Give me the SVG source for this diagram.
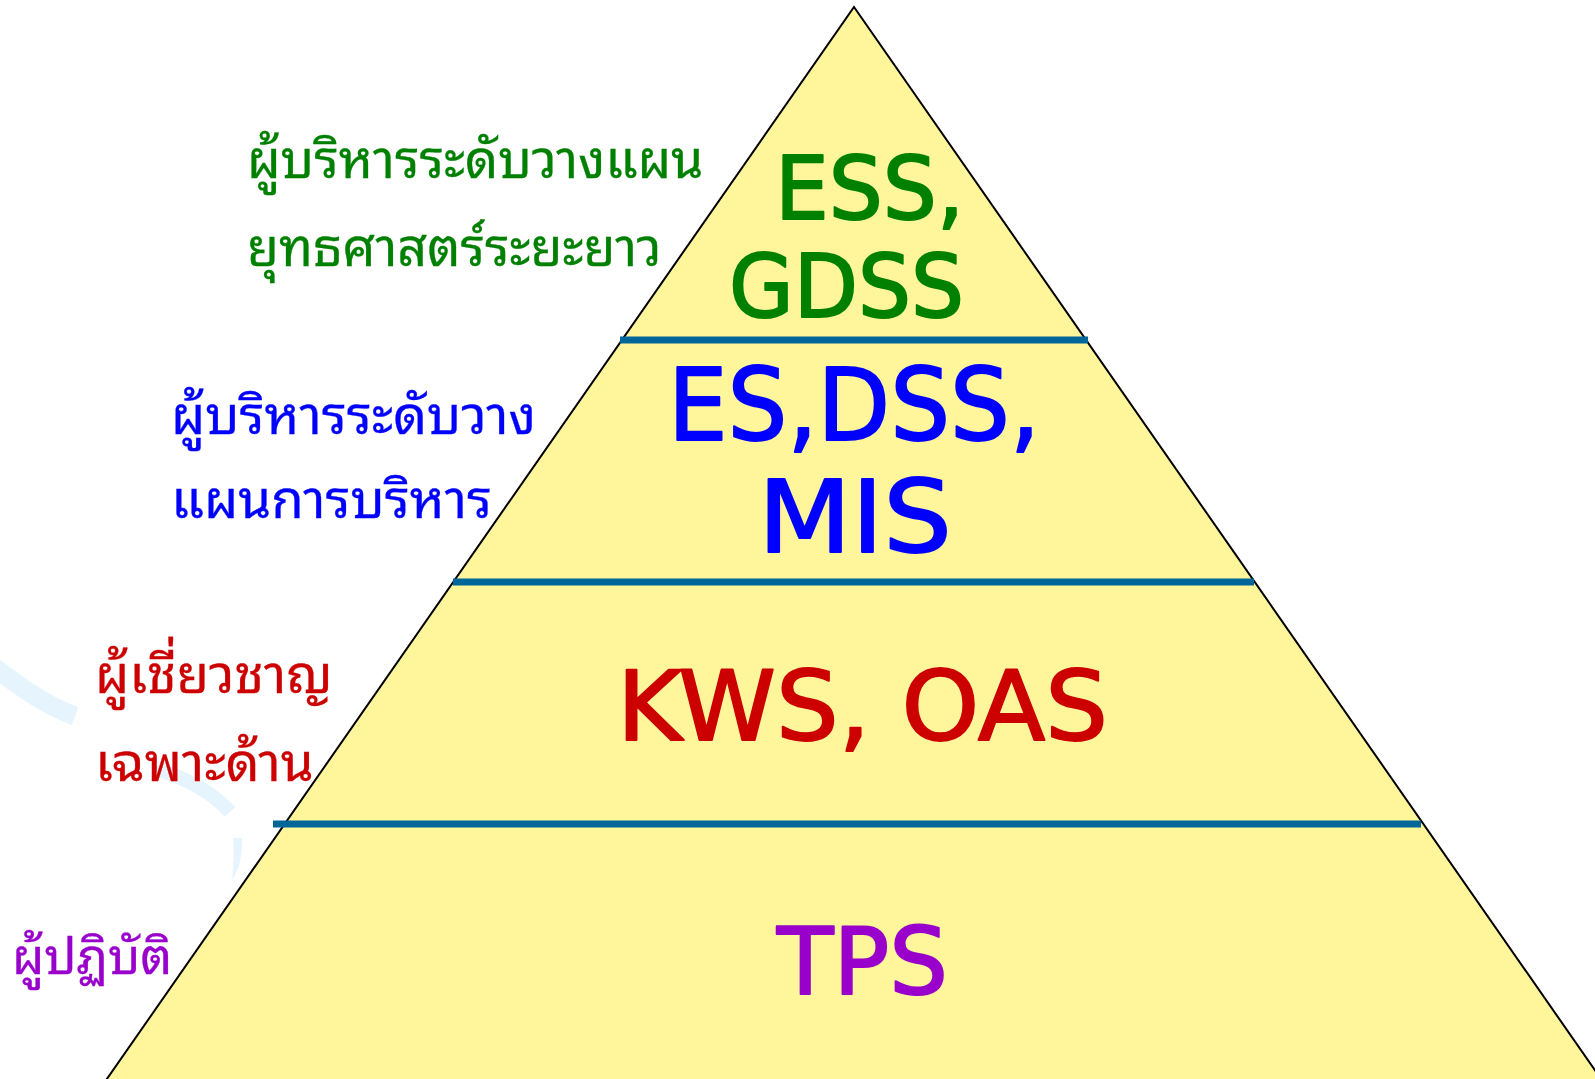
<svg xmlns="http://www.w3.org/2000/svg" width="1595" height="1079" viewBox="0 0 1595 1079">
<style>
.thai{font-family:"Noto Sans Thai Looped","Loma","Garuda","Noto Sans Thai","Noto Sans","DejaVu Sans",sans-serif;font-size:53px}
.big{font-family:"DejaVu Sans","Liberation Sans",sans-serif;stroke-width:2;stroke-linejoin:round;paint-order:stroke}
.g{fill:#008000;stroke:#008000}
.b{fill:#0000ff;stroke:#0000ff}
.r{fill:#cc0000;stroke:#cc0000}
.p{fill:#9900cc;stroke:#9900cc}
.thai.g,.thai.b,.thai.r,.thai.p{stroke-width:0.3}
.sep{stroke:#006699;stroke-width:7}
.sw{fill:none;stroke:#e6f4fd;stroke-linecap:butt}
</style>
<rect width="1595" height="1079" fill="#ffffff"/>
<g id="swoosh">
<path class="sw" d="M-5,668 C25,690 45,705 75,716" stroke-width="19"/>
<path class="sw" d="M160,770 C190,780 215,795 230,812" stroke-width="14"/>
<path d="M233,838 L242,838 C242,855 240,868 232,880 C234,866 234,852 233,838 Z" fill="#e6f4fd"/>
</g>
<g id="pyramid">
<polygon points="854,7 1606,1086 102,1086" fill="#fff59b" stroke="#000000" stroke-width="2"/>
</g>
<g id="connectors">
<line class="sep" x1="620" y1="340" x2="1088" y2="340"/>
<line class="sep" x1="453" y1="582" x2="1254" y2="582"/>
<line class="sep" x1="273" y1="824" x2="1421" y2="824"/>
</g>
<g id="level-strategic">
<text class="big g" x="775" y="219" font-size="88" textLength="189" lengthAdjust="spacingAndGlyphs">ESS,</text>
<text class="big g" x="729" y="317" font-size="88" textLength="235" lengthAdjust="spacingAndGlyphs">GDSS</text>
<text class="thai g" x="247" y="178" style="font-size:52px">ผู้บริหารระดับวางแผน</text>
<text class="thai g" x="247" y="266" style="font-size:52px">ยุทธศาสตร์ระยะยาว</text>
</g>
<g id="level-management">
<text class="big b" x="668" y="440" font-size="100" textLength="372" lengthAdjust="spacingAndGlyphs">ES,DSS,</text>
<text class="big b" x="758" y="552" font-size="100" textLength="194" lengthAdjust="spacingAndGlyphs">MIS</text>
<text class="thai b" x="171" y="434">ผู้บริหารระดับวาง</text>
<text class="thai b" x="171" y="518">แผนการบริหาร</text>
</g>
<g id="level-knowledge">
<text class="big r" x="617" y="740" font-size="97" textLength="491" lengthAdjust="spacingAndGlyphs">KWS, OAS</text>
<text class="thai r" x="95" y="693">ผู้เชี่ยวชาญ</text>
<text class="thai r" x="95" y="781">เฉพาะด้าน</text>
</g>
<g id="level-operational">
<text class="big p" x="777" y="994" font-size="93" textLength="171" lengthAdjust="spacingAndGlyphs">TPS</text>
<text class="thai p" x="12" y="974" style="font-size:50px">ผู้ปฏิบัติ</text>
</g>
</svg>
